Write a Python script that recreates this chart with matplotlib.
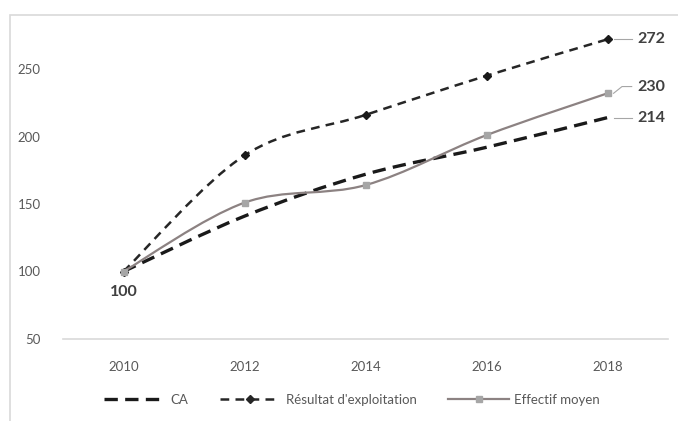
import matplotlib.pyplot as plt
from matplotlib.path import Path
from matplotlib.patches import PathPatch, Rectangle
from matplotlib.lines import Line2D

plt.rcParams['font.family'] = ['Lato', 'DejaVu Sans']

# données
annees = ['2010', '2012', '2014', '2016', '2018']
ca = [100, 141, 172, 192, 214]
resultat = [100, 186, 216, 245, 272]
effectif = [100, 151, 164, 201, 232]

GRIS_TXT = '#595959'


# courbe lissée façon Excel (bezier)
def courbe_lissee(ax, xs, ys, **kw):
    verts = [(xs[0], ys[0])]
    codes = [Path.MOVETO]
    n = len(xs)
    for i in range(n - 1):
        x0, y0 = (xs[i - 1], ys[i - 1]) if i > 0 else (xs[i], ys[i])
        x1, y1 = xs[i], ys[i]
        x2, y2 = xs[i + 1], ys[i + 1]
        x3, y3 = (xs[i + 2], ys[i + 2]) if i + 2 < n else (x2, y2)
        c1 = (x1 + (x2 - x0) / 6, y1 + (y2 - y0) / 6)
        c2 = (x2 - (x3 - x1) / 6, y2 - (y3 - y1) / 6)
        verts += [c1, c2, (x2, y2)]
        codes += [Path.CURVE4] * 3
    patch = PathPatch(Path(verts, codes), fill=False, **kw)
    ax.add_patch(patch)


fig = plt.figure(figsize=(6.78, 4.21), dpi=100)
fig.patches.append(Rectangle((10 / 678, -0.1), 1.2, (421 - 15) / 421 + 0.1,
                             transform=fig.transFigure, fill=False,
                             edgecolor='#d9d9d9', linewidth=1.2))
ax = fig.add_axes([63 / 678, 82 / 421, 605 / 678, 310.5 / 421])

x = list(range(len(annees)))
courbe_lissee(ax, x, ca, edgecolor='#1a1a1a', linewidth=2.4,
              linestyle=(0, (4, 2.2)), capstyle='butt')
courbe_lissee(ax, x, resultat, edgecolor='#262626', linewidth=1.8,
              linestyle=(0, (3.5, 2.5)), capstyle='butt')
courbe_lissee(ax, x, effectif, edgecolor='#8c8282', linewidth=1.6)
ax.plot(x, resultat, linestyle='none', marker='D', markersize=4,
        color='#1a1a1a')
ax.plot(x, effectif, linestyle='none', marker='s', markersize=5,
        color='#a6a6a6')

ax.set_xlim(-0.5, len(annees) - 0.5)
ax.set_ylim(50, 280)
ax.set_xticks(x)
ax.set_xticklabels(annees)
ax.set_yticks([50, 100, 150, 200, 250])
for s in ['top', 'right', 'left']:
    ax.spines[s].set_visible(False)
ax.spines['bottom'].set_color('#d9d9d9')
ax.spines['bottom'].set_linewidth(1.2)
ax.tick_params(length=0, labelsize=9.5, colors=GRIS_TXT, pad=16)
ax.tick_params(axis='y', pad=16)

# étiquettes de données
ax.text(0, 85, '100', ha='center', va='center', fontsize=11.5,
        fontweight='bold', color='#404040')
etiquettes = [(resultat[-1], 272, '272'), (effectif[-1], 237, '230'),
              (ca[-1], 214, '214')]
for yv, ylab, txt in etiquettes:
    ax.plot([4.05, 4.12, 4.2], [yv, ylab, ylab], color='#a6a6a6', lw=0.8,
            clip_on=False)
    ax.text(4.25, ylab, txt, ha='left', va='center', fontsize=11.5,
            fontweight='bold', color='#404040', clip_on=False)

# légende
poignees = [
    Line2D([], [], color='#1a1a1a', lw=2.4, linestyle=(0, (4, 2.2))),
    Line2D([], [], color='#262626', lw=1.8, linestyle=(0, (3.5, 2.5)),
           marker='D', markersize=4),
    Line2D([], [], color='#8c8282', lw=1.6, marker='s', markersize=5,
           markerfacecolor='#a6a6a6', markeredgecolor='#a6a6a6'),
]
fig.legend(poignees, ['CA', "Résultat d'exploitation", 'Effectif moyen'],
           loc='center', bbox_to_anchor=(352 / 678, 1 - 400 / 421),
           ncol=3, frameon=False, fontsize=9.5, labelcolor=GRIS_TXT,
           handlelength=4.6, columnspacing=2.4, handletextpad=0.4)

fig.savefig('out.png', dpi=100)
